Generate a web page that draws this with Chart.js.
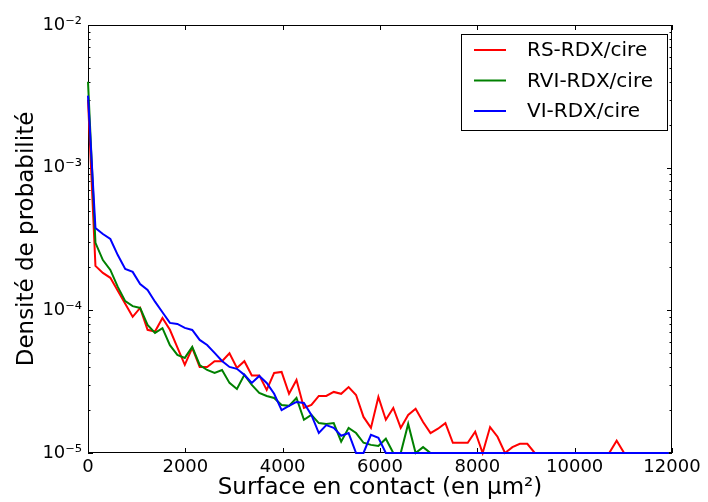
<!DOCTYPE html>
<html>
<head>
<meta charset="utf-8">
<script src="https://cdn.jsdelivr.net/npm/chart.js@4"></script>
<style>
  html, body { margin: 0; padding: 0; background: #fff; }
  #wrap { width: 708px; height: 502px; }
</style>
</head>
<body>
<div id="wrap"><canvas id="chart" width="708" height="502"></canvas></div>
<script>
// surface bins (µm²)
const surfaceBins = [0, 153, 306, 459, 612, 765, 918, 1071, 1224, 1377, 1530, 1683, 1836, 1989, 2142, 2295,
  2448, 2601, 2754, 2907, 3060, 3213, 3366, 3519, 3672, 3825, 3978, 4131, 4284, 4437, 4590, 4743, 4896,
  5049, 5202, 5355, 5508, 5661, 5814, 5967, 6120, 6273, 6426, 6579, 6732, 6885, 7038, 7191, 7344, 7497,
  7650, 7803, 7956, 8109, 8262, 8415, 8568, 8721, 8874, 9027, 9180, 9333, 9486, 9639, 9792, 9945, 10098,
  10251, 10404, 10557, 10710, 10863, 11016, 11169, 11322, 11475, 11628, 11781, 11934];

// densité de probabilité
const rsRdx = [3.0e-3, 2.05e-4, 1.83e-4, 1.69e-4, 1.37e-4, 1.11e-4, 9.0e-5, 1.04e-4, 7.3e-5, 7.1e-5,
  8.85e-5, 7.3e-5, 5.5e-5, 4.15e-5, 5.45e-5, 4.0e-5, 4.0e-5, 4.4e-5, 4.4e-5, 5.0e-5,
  3.95e-5, 4.4e-5, 3.5e-5, 3.5e-5, 2.77e-5, 3.64e-5, 3.7e-5, 2.6e-5, 3.25e-5, 2.07e-5,
  2.17e-5, 2.51e-5, 2.51e-5, 2.68e-5, 2.6e-5, 2.9e-5, 2.55e-5, 1.79e-5, 1.5e-5, 2.47e-5,
  1.71e-5, 2.07e-5, 1.5e-5, 1.85e-5, 2.04e-5, 1.65e-5, 1.38e-5, 1.48e-5, 1.62e-5, 1.18e-5,
  1.18e-5, 1.18e-5, 1.41e-5, 1e-5, 1.52e-5, 1.3e-5, 1e-5, 1.1e-5, 1.16e-5, 1.16e-5,
  1e-5, 1e-5, 1e-5, 1e-5, 1e-5, 1e-5, 1e-5, 1e-5, 1e-5, 1e-5,
  1e-5, 1.22e-5, 1e-5, 1e-5, 1e-5, 1e-5, 1e-5, 1e-5, 1e-5];

const rviRdx = [4.0e-3, 2.97e-4, 2.25e-4, 1.92e-4, 1.46e-4, 1.16e-4, 1.07e-4, 1.04e-4, 7.9e-5, 6.95e-5,
  7.5e-5, 5.7e-5, 4.87e-5, 4.64e-5, 5.54e-5, 4.14e-5, 3.82e-5, 3.64e-5, 3.82e-5, 3.1e-5,
  2.81e-5, 3.53e-5, 3.0e-5, 2.64e-5, 2.51e-5, 2.43e-5, 2.17e-5, 2.14e-5, 2.43e-5, 1.71e-5,
  1.85e-5, 1.62e-5, 1.6e-5, 1.62e-5, 1.2e-5, 1.5e-5, 1.38e-5, 1.18e-5, 1.14e-5, 1.12e-5,
  1.26e-5, 1e-5, 1e-5, 1.6e-5, 1e-5, 1.1e-5, 1e-5, 1e-5, 1e-5, 1e-5,
  1e-5, 1e-5, 1e-5, 1e-5, 1e-5, 1e-5, 1e-5, 1e-5, 1e-5, 1e-5,
  1e-5, 1e-5, 1e-5, 1e-5, 1e-5, 1e-5, 1e-5, 1e-5, 1e-5, 1e-5,
  1e-5, 1e-5, 1e-5, 1e-5, 1e-5, 1e-5, 1e-5, 1e-5, 1e-5];

const viRdx = [3.2e-3, 3.78e-4, 3.43e-4, 3.16e-4, 2.44e-4, 1.95e-4, 1.86e-4, 1.53e-4, 1.39e-4, 1.15e-4,
  9.7e-5, 8.16e-5, 8.03e-5, 7.53e-5, 7.29e-5, 6.2e-5, 5.72e-5, 5.03e-5, 4.42e-5, 4.01e-5,
  3.89e-5, 3.53e-5, 3.1e-5, 3.47e-5, 3.1e-5, 2.6e-5, 2.0e-5, 2.14e-5, 2.28e-5, 2.24e-5,
  1.85e-5, 1.38e-5, 1.57e-5, 1.5e-5, 1.32e-5, 1.38e-5, 1e-5, 1e-5, 1.34e-5, 1.28e-5,
  1e-5, 1e-5, 1e-5, 1e-5, 1e-5, 1e-5, 1e-5, 1e-5, 1e-5, 1e-5,
  1e-5, 1e-5, 1e-5, 1e-5, 1e-5, 1e-5, 1e-5, 1e-5, 1e-5, 1e-5,
  1e-5, 1e-5, 1e-5, 1e-5, 1e-5, 1e-5, 1e-5, 1e-5, 1e-5, 1e-5,
  1e-5, 1e-5, 1e-5, 1e-5, 1e-5, 1e-5, 1e-5, 1e-5, 1e-5];

const seriesNames = ['RS-RDX/cire', 'RVI-RDX/cire', 'VI-RDX/cire'];
const seriesColors = ['#ff0000', '#008000', '#0000ff'];
const xTicks = [0, 2000, 4000, 6000, 8000, 10000, 12000];
const yDecades = [1e-5, 1e-4, 1e-3, 1e-2];

const FONT = "'DejaVu Sans', sans-serif";
Chart.defaults.font.family = FONT;
Chart.defaults.color = '#000';

const SUP = { '-': '\u207B', '0': '\u2070', '1': '\u00B9', '2': '\u00B2', '3': '\u00B3', '4': '\u2074', '5': '\u2075' };
function powLabel(v) {
  const e = Math.round(Math.log10(v));
  return '10' + String(e).split('').map(c => SUP[c]).join('');
}

function toPoints(values) {
  return surfaceBins.map((x, i) => ({ x: x, y: values[i] }));
}

// cadre et graduations vers l'intérieur (sous les courbes), puis légende
const framePlugin = {
  id: 'frame',
  beforeDatasetsDraw(chart) {
    const ctx = chart.ctx;
    const a = chart.chartArea;
    const xs = chart.scales.x, ys = chart.scales.y;
    ctx.save();
    ctx.strokeStyle = '#000';
    ctx.lineWidth = 1;
    ctx.strokeRect(Math.round(a.left) + 0.5, Math.round(a.top) + 0.5,
      Math.round(a.right - a.left) - 1, Math.round(a.bottom - a.top) - 1);

    ctx.beginPath();
    xTicks.forEach(t => {
      const px = Math.round(xs.getPixelForValue(t)) + 0.5;
      ctx.moveTo(px, a.bottom); ctx.lineTo(px, a.bottom - 5);
      ctx.moveTo(px, a.top); ctx.lineTo(px, a.top + 5);
    });
    for (let d = 0; d < yDecades.length; d++) {
      const base = yDecades[d];
      for (let m = 1; m <= 9; m++) {
        const v = base * m;
        if (v > 1e-2 * 1.0001) break;
        const py = Math.round(ys.getPixelForValue(v)) + 0.5;
        const len = m === 1 ? 5 : 2.5;
        ctx.moveTo(a.left, py); ctx.lineTo(a.left + len, py);
        ctx.moveTo(a.right, py); ctx.lineTo(a.right - len, py);
      }
    }
    ctx.stroke();
    ctx.restore();
  },
  afterDatasetsDraw(chart) {
    const ctx = chart.ctx;
    const a = chart.chartArea;
    ctx.save();
    const bx = a.right - 211, by = a.top + 9, bw = 206, bh = 96;
    ctx.fillStyle = '#fff';
    ctx.fillRect(bx, by, bw, bh);
    ctx.strokeStyle = '#000';
    ctx.lineWidth = 1;
    ctx.strokeRect(bx + 0.5, by + 0.5, bw, bh);
    ctx.font = '20px ' + FONT;
    ctx.textBaseline = 'middle';
    ctx.textAlign = 'left';
    chart.data.datasets.forEach((ds, i) => {
      const y = by + 16 + i * 30.5;
      ctx.strokeStyle = ds.borderColor;
      ctx.lineWidth = 2;
      ctx.beginPath();
      ctx.moveTo(bx + 13, y); ctx.lineTo(bx + 45, y);
      ctx.stroke();
      ctx.fillStyle = '#000';
      ctx.fillText(ds.label, bx + 66, y + 1);
    });
    ctx.restore();
  }
};

new Chart(document.getElementById('chart'), {
  type: 'line',
  data: {
    datasets: seriesNames.map((name, i) => ({
      label: name,
      data: toPoints([rsRdx, rviRdx, viRdx][i]),
      borderColor: seriesColors[i],
      backgroundColor: seriesColors[i],
      borderWidth: 2,
      pointRadius: 0,
      tension: 0,
      fill: false,
      clip: 3,
      order: seriesNames.length - 1 - i
    }))
  },
  options: {
    responsive: false,
    animation: false,
    layout: { padding: { left: 0, right: 36, top: 25, bottom: 0 } },
    plugins: { legend: { display: false }, tooltip: { enabled: false } },
    scales: {
      x: {
        type: 'linear',
        min: 0,
        max: 12000,
        border: { display: false },
        grid: { display: false, drawTicks: false },
        ticks: {
          stepSize: 2000,
          padding: 4,
          font: { size: 18 },
          maxRotation: 0,
          callback: v => String(v)
        },
        title: {
          display: true,
          text: 'Surface en contact (en µm²)',
          font: { size: 23 },
          padding: { top: 0, bottom: 0 }
        },
        afterFit: s => { s.height = 49; }
      },
      y: {
        type: 'logarithmic',
        min: 1e-5,
        max: 1e-2,
        border: { display: false },
        grid: { display: false, drawTicks: false },
        ticks: {
          autoSkip: false,
          padding: 6,
          font: { size: 18 },
          callback: v => {
            const e = Math.log10(v);
            return Math.abs(e - Math.round(e)) < 1e-6 ? powLabel(v) : null;
          }
        },
        title: {
          display: true,
          text: 'Densité de probabilité',
          font: { size: 23 },
          padding: { top: 13, bottom: 0 }
        },
        afterFit: s => { s.width = 88; }
      }
    }
  },
  plugins: [framePlugin]
});
</script>
</body>
</html>
